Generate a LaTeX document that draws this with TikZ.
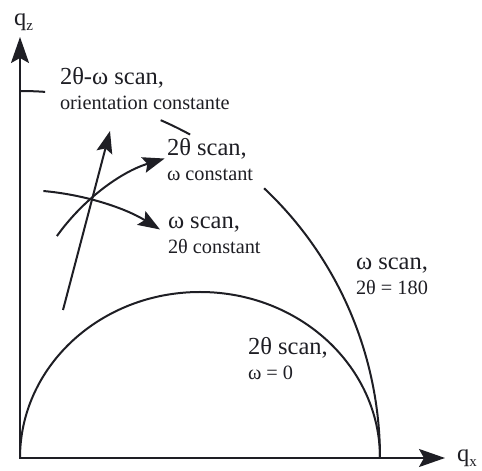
\documentclass[tikz,border=0pt]{standalone}
\usepackage{fontspec}
\setmainfont{Liberation Serif}
\usetikzlibrary{arrows.meta}
\definecolor{ink}{HTML}{1E1E24}
\newcommand{\qlab}[1]{q\raisebox{-0.2em}{\fontsize{15}{15}\selectfont #1}}
\newcommand{\bigtxt}{\fontsize{24.5}{25}\selectfont}
\newcommand{\smalltxt}{\fontsize{20.3}{25}\selectfont}

\begin{document}
\begin{tikzpicture}[x=1pt, y=1pt, line width=2pt]
  \tikzset{
    axis/.style={draw=ink, {Stealth[length=26pt, width=18pt, inset=5pt]}-{Stealth[length=26pt, width=18pt, inset=5pt]}},
    scanarrow/.style={draw=ink, -{Stealth[length=22pt, width=16pt, inset=4pt]}},
    curve/.style={draw=ink},
    lab/.style={anchor=base west, inner sep=0pt, align=left, font=\smalltxt, text=ink}
  }
  \useasboundingbox (0,0) rectangle (482,471);
  \coordinate (o) at (20,13);
  \coordinate (zt) at (20,434);
  \coordinate (xt) at (445,13);
  \coordinate (tc) at (225,115);
  \coordinate (s0) at (63,161);
  \coordinate (s1) at (110,340);

  % axes
  \draw[axis] (zt) -- (o) -- (xt);
  \node[lab, font=\bigtxt] (qz) at (13,445) {\qlab{z}};
  \node[lab, font=\bigtxt] (qx) at (456,9) {\qlab{x}};

  % omega scan, 2theta = 180 (broken for the labels)
  \foreach \a/\b in {90/86, 67/61.8, 47.3/0}
    \draw[curve] (o) ++(\a:360 and 367) arc[start angle=\a, end angle=\b, x radius=360, y radius=367];
  % 2theta scan, omega = 0
  \draw[curve] (o) arc[start angle=180, end angle=0, x radius=180, y radius=166];

  % scan directions
  \draw[scanarrow] (s0) -- (s1);
  \draw[scanarrow] (o) ++(85:268) arc[start angle=85, end angle=58.5, radius=268];
  \draw[scanarrow] (tc) ++(144.5:206.5) arc[start angle=144.5, end angle=107, radius=206.5];

  % labels (base = last line)
  \node[lab] (l1) at (59,361) {{\bigtxt 2θ-ω scan,}\\orientation constante};
  \node[lab] (l2) at (166,290) {{\bigtxt 2θ scan,}\\ω constant};
  \node[lab] (l3) at (167,217) {{\bigtxt ω scan,}\\2θ constant};
  \node[lab] (l4) at (355,176) {{\bigtxt ω scan,}\\2θ = 180};
  \node[lab] (l5) at (247,91) {{\bigtxt 2θ scan,}\\ω = 0};
\end{tikzpicture}
\end{document}
